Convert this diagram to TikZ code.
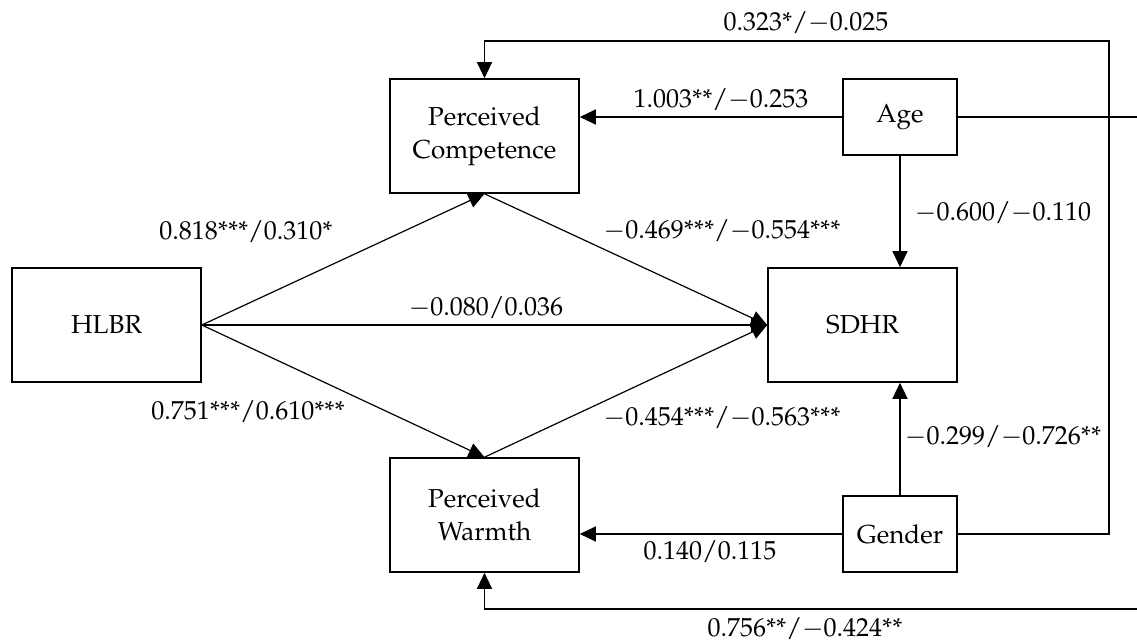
\documentclass[tikz,border=0pt]{standalone}
\usepackage[T1]{fontenc}
\usepackage{mathpazo}
\usetikzlibrary{arrows.meta}
\begin{document}
\begin{tikzpicture}[x=0.5pt,y=-0.5pt,
  box/.style={draw,line width=0.8pt,inner sep=0pt,align=center,font=\fontsize{13}{16.5}\selectfont},
  bigbox/.style={box,minimum width=94.5pt,minimum height=57pt},
  smallbox/.style={box,minimum width=57pt,minimum height=38pt},
  lbl/.style={inner sep=0pt,font=\fontsize{13}{15}\selectfont},
  conn/.style={line width=0.6pt},
  arr/.style={conn,-{Triangle[length=8pt,width=7.5pt]}}]
\useasboundingbox (0,0) rectangle (1137,642);
% boxes
\node[bigbox] (PC) at (484.5,136) {Perceived\\Competence};
\node[bigbox] (HL) at (106.5,325) {HLBR};
\node[bigbox] (SD) at (862.5,325) {SDHR};
\node[bigbox] (PW) at (484.5,515) {Perceived\\Warmth};
\node[smallbox] (AG) at (900,117) {Age};
\node[smallbox] (GE) at (900,534) {Gender};
% free ends and corners
\coordinate (rt) at (1109,41);
\coordinate (ageend) at (1140,117);
\coordinate (botstart) at (1140,609);
% connectors
\draw[arr] (HL.east) -- (PC.south);
\draw[arr] (HL.east) -- (SD.west);
\draw[arr] (HL.east) -- (PW.north);
\draw[arr] (PC.south) -- (SD.west);
\draw[arr] (PW.north) -- (SD.west);
\draw[arr] (AG.west) -- (AG.west -| PC.east);
\draw[arr] (GE.west) -- (GE.west -| PW.east);
\draw[arr] (AG.south) -- (AG.south |- SD.north);
\draw[arr] (GE.north) -- (GE.north |- SD.south);
\draw[arr] (GE.east) -| (rt) -| (PC.north);
\draw[conn] (AG.east) -- (ageend);
\draw[arr] (botstart) -| (PW.south);
% labels
\node[lbl] (l1) at (806,23) {0.323*/$-$0.025};
\node[lbl] (l2) at (721,100) {1.003**/$-$0.253};
\node[lbl] (l3) at (1003,213) {$-$0.600/$-$0.110};
\node[lbl] (l4) at (246,232) {0.818***/0.310*};
\node[lbl] (l5) at (722,231) {$-$0.469***/$-$0.554***};
\node[lbl] (l6) at (486,308) {$-$0.080/0.036};
\node[lbl] (l7) at (248,412) {0.751***/0.610***};
\node[lbl] (l8) at (722,418) {$-$0.454***/$-$0.563***};
\node[lbl] (l9) at (1003,437) {$-$0.299/$-$0.726**};
\node[lbl] (l10) at (710,552) {0.140/0.115};
\node[lbl] (l11) at (805,629) {0.756**/$-$0.424**};
\end{tikzpicture}
\end{document}
